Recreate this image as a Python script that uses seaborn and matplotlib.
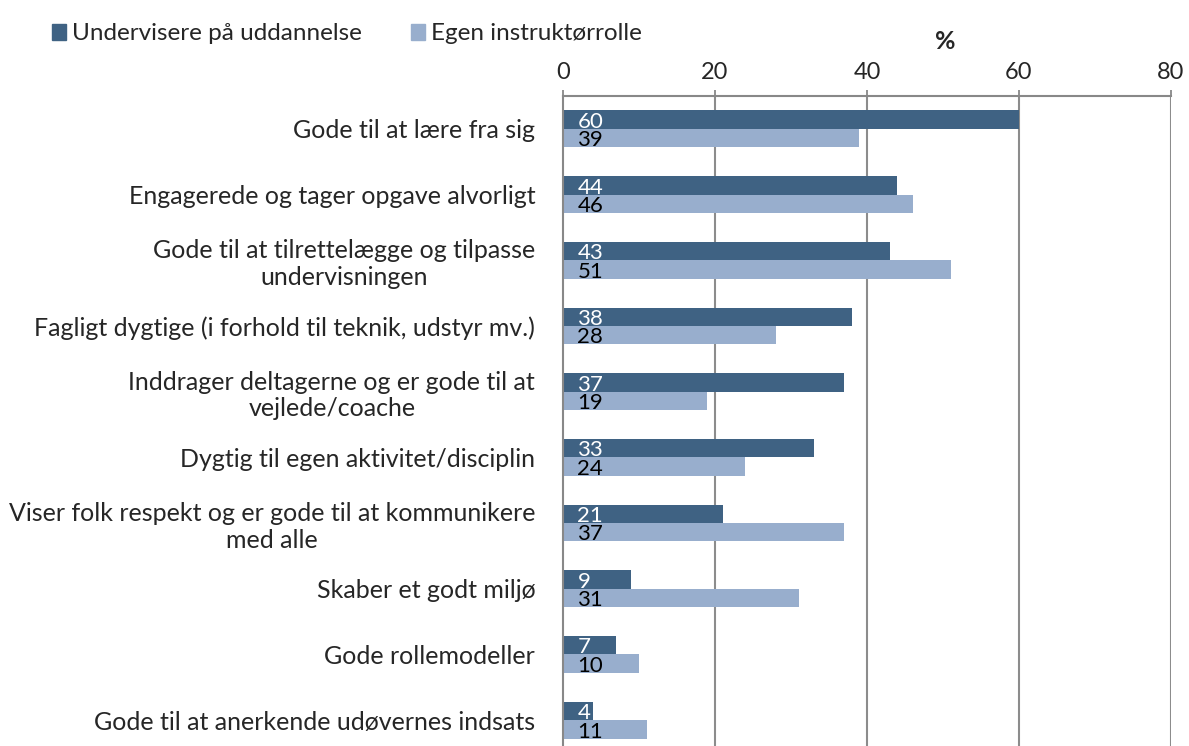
import numpy as np
import matplotlib
matplotlib.use('Agg')
import matplotlib.pyplot as plt
import pandas as pd
import seaborn as sns

kategorier = ['Gode til at lære fra sig',
              'Engagerede og tager opgave alvorligt',
              'Gode til at tilrettelægge og tilpasse\nundervisningen',
              'Fagligt dygtige (i forhold til teknik, udstyr mv.)',
              'Inddrager deltagerne og er gode til at\nvejlede/coache',
              'Dygtig til egen aktivitet/disciplin',
              'Viser folk respekt og er gode til at kommunikere\nmed alle',
              'Skaber et godt miljø',
              'Gode rollemodeller',
              'Gode til at anerkende udøvernes indsats']
serier = ['Undervisere på uddannelse', 'Egen instruktørrolle']
undervisere = [60, 44, 43, 38, 37, 33, 21, 9, 7, 4]
egen_rolle = [39, 46, 51, 28, 19, 24, 37, 31, 10, 11]
xticks = [0, 20, 40, 60, 80]

farver = ['#3F6283', '#98AECD']

df = pd.DataFrame({
    'kategori': kategorier * 2,
    'serie': [serier[0]] * len(kategorier) + [serier[1]] * len(kategorier),
    'procent': undervisere + egen_rolle,
})

sns.set_style('white')
plt.rcParams['font.family'] = ['Lato', 'DejaVu Sans']

fig = plt.figure(figsize=(11.89, 7.46), dpi=100)
ax = fig.add_axes([0.4735, -0.0094, 0.5113, 0.8807])

sns.barplot(data=df, y='kategori', x='procent', hue='serie', orient='h',
            palette=farver, width=0.56, gap=0, saturation=1, ax=ax,
            legend=False, order=kategorier, hue_order=serier, linewidth=0)

# tal i søjlerne
tekstfarver = ['white', 'black']
for cont, tf in zip(ax.containers, tekstfarver):
    for p in cont:
        v = p.get_width()
        ax.text(p.get_x() + 1.9, p.get_y() + p.get_height() * 0.62, f'{v:.0f}',
                color=tf, fontsize=16, va='center', ha='left')

ax.set_xlim(0, 80)
ax.set_ylim(len(kategorier) - 0.5, -0.5)
ax.xaxis.tick_top()
ax.set_xticks(xticks)
ax.set_xticklabels([str(t) for t in xticks], fontsize=17)
ax.tick_params(axis='x', which='major', length=4.5, width=1.3, color='#888888',
               pad=5, top=True, bottom=False)
ax.tick_params(axis='y', which='major', length=0, labelsize=18, pad=20)
ax.set_yticks(np.arange(-0.5, len(kategorier), 1), minor=True)
ax.tick_params(axis='y', which='minor', length=7, width=1.3, color='#888888')
ax.set_xlabel('')
ax.set_ylabel('')
for lab in ax.get_yticklabels():
    lab.set_horizontalalignment('right')
    lab.set_multialignment('center')

for x in xticks[1:]:
    ax.axvline(x, color='#8c8c8c', lw=1.5, zorder=0)

for s in ['right', 'bottom']:
    ax.spines[s].set_visible(False)
ax.spines['left'].set_color('#888888')
ax.spines['left'].set_linewidth(1.5)
ax.spines['top'].set_color('#888888')
ax.spines['top'].set_linewidth(1.5)

fig.text(0.795, 0.945, '%', fontsize=18, fontweight='bold', ha='center', va='center')

handles = [plt.Rectangle((0, 0), 1, 1, color=c) for c in farver]
fig.legend(handles, serier, loc='upper left', bbox_to_anchor=(0.025, 0.998), ncol=2,
           frameon=False, fontsize=17.5, handlelength=0.6, handleheight=0.6,
           handletextpad=0.25, columnspacing=2.0)

fig.savefig('out.png', dpi=100)
